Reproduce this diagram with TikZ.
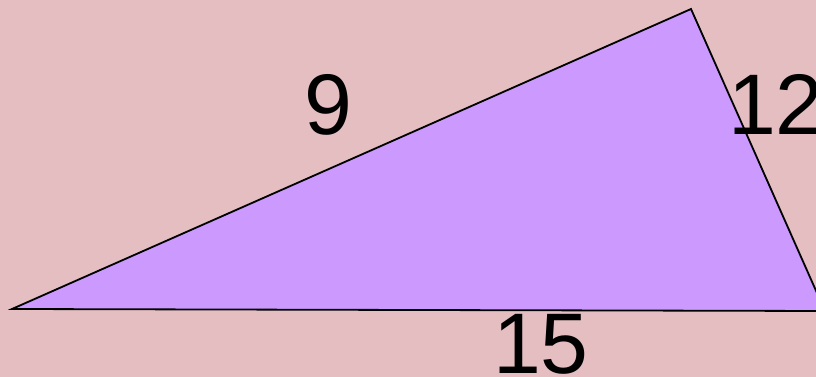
\documentclass[tikz,border=0pt]{standalone}
\usepackage{fontspec}
\setmainfont{Liberation Sans}
\definecolor{bgpink}{RGB}{228,190,192}
\definecolor{trifill}{RGB}{204,153,255}
\tikzset{
  lbl/.style={font=\fontsize{86}{86}\selectfont, anchor=base, inner sep=0pt, text=black},
  tri/.style={fill=trifill, draw=black, line width=1.8pt, line join=miter}
}
\begin{document}
\begin{tikzpicture}[x=1pt,y=1pt]
\fill[bgpink] (0,0) rectangle (816,377);
\useasboundingbox (0,0) rectangle (816,377);
\begin{scope}
\clip (0,0) rectangle (816,377);
\coordinate (A) at (12,68);
\coordinate (B) at (691,368);
\coordinate (C) at (825,66);
\draw[tri] (A) -- (B) -- (C) -- cycle;
\node[lbl] (n9) at (328,242) {9};
\node[lbl] (n12) at (776,242) {12};
\node[lbl] (n15) at (541,3) {15};
\end{scope}
\end{tikzpicture}
\end{document}
